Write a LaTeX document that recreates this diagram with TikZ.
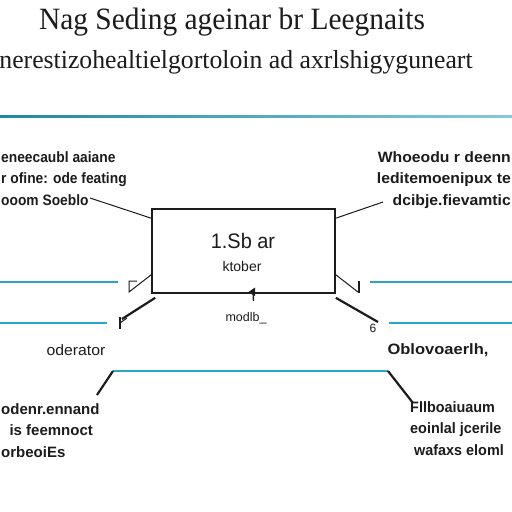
\documentclass[tikz,border=0pt]{standalone}
\usepackage{fontspec}
\setmainfont{Liberation Serif}
\setsansfont{Liberation Sans}
\usetikzlibrary{calc,arrows.meta}
\definecolor{ink}{HTML}{1C1C1C}
\definecolor{tealline}{HTML}{2AA6C2}
\definecolor{tealdark}{HTML}{1F88A4}
\definecolor{teallight}{HTML}{86CADB}
\begin{document}
\begin{tikzpicture}[x=1pt,y=-1pt,
  every node/.style={inner sep=0pt, text=ink},
  title/.style={font=\rmfamily\fontsize{31}{33}\selectfont},
  subtitle/.style={font=\rmfamily\fontsize{26}{28}\selectfont},
  sidetxt/.style={font=\sffamily\bfseries\fontsize{15}{21.5}\selectfont},
  boxtxt/.style={font=\sffamily\fontsize{14}{16}\selectfont},
  mainbox/.style={draw=ink, line width=1.6pt, minimum width=183pt, minimum height=84pt},
  tealrule/.style={draw=tealline, line width=1.7pt},
  conn/.style={draw=ink, line width=1pt},
  heavyconn/.style={draw=ink, line width=2.2pt}]
\useasboundingbox (0,0) rectangle (512,512);
\fill[white] (0,0) rectangle (512,512);

% titles
\node[title] (t1) at (232,22) {\scalebox{0.95}[1]{Nag Seding ageinar br Leegnaits}};
\node[subtitle] (t2) at (236,62) {\scalebox{0.99}[1]{nerestizohealtielgortoloin ad axrlshigyguneart}};

% top rule
\shade[left color=tealdark, right color=teallight] (0,115.2) rectangle (512,117.4);

% side text blocks
\node[sidetxt, align=left, anchor=north west] (lblock) at (1,151) {\scalebox{0.92}[1]{eneecaubl aaiane}\\ \scalebox{0.92}[1]{r ofine: ode feating}\\ \scalebox{0.92}[1]{ooom Soeblo}};
\node[sidetxt, align=right, anchor=north east] (rblock) at (511,151) {\scalebox{1.05}[1]{Whoeodu r deenn}\\ \scalebox{1.05}[1]{leditemoenipux te}\\ \scalebox{1.05}[1]{dcibje.fievamtic}};

% main box
\node[mainbox] (box) at (243.5,251) {};
\node[font=\sffamily\fontsize{21}{23}\selectfont] (bt1) at (243,241) {\scalebox{0.95}[1]{1.Sb ar}};
\node[boxtxt] (bt2) at (242,266) {ktober};
\node[font=\sffamily\fontsize{12.5}{14}\selectfont] (bt3) at (246,318) {modlb\_};

% top connectors
\coordinate (lend) at (90,198);
\coordinate (rend) at (383,202);
\draw[conn] (lend) -- ($(box.north west)+(0,10)$);
\draw[conn] (rend) -- ($(box.north east)+(0,10)$);

% small arrow at box bottom
\coordinate (amid) at (253.5,301);
\draw[ink, line width=1.4pt] (amid) -- (253,291);
\fill[ink] (248.5,292) -- (255,287.5) -- (255,296) -- cycle;

% teal side lines
\coordinate (l1) at (0,282); \coordinate (l1e) at (118,282);
\coordinate (l2) at (0,323); \coordinate (l2e) at (107,323);
\coordinate (r1) at (370,282); \coordinate (r1e) at (512,282);
\coordinate (r2) at (389,323); \coordinate (r2e) at (512,323);
\draw[tealrule] (l1) -- (l1e);
\draw[tealrule] (l2) -- (l2e);
\draw[tealrule] (r1) -- (r1e);
\draw[tealrule] (r2) -- (r2e);

% left marks
\coordinate (lm1) at (129,292);
\draw[conn] ($(box.south west)+(0,-19)$) -- (lm1) -- (129,281) -- (137,281);
\coordinate (lm2) at (122,319);
\draw[heavyconn] ($(box.south west)+(4,4)$) -- (lm2);
\draw[conn, line width=1.3pt] (120,317) -- (120,329);
\draw[conn] (120,323) -- (127,318);

% right marks
\coordinate (rm1) at (358,292);
\draw[conn] ($(box.south east)+(0,-19)$) -- (rm1);
\draw[conn, line width=1.3pt] (359,281) -- (359,293);
\coordinate (rm2) at (378,322);
\draw[heavyconn] ($(box.south east)+(0,4)$) -- (rm2);
\node[font=\sffamily\fontsize{12}{13}\selectfont] (six) at (373,328) {6};

% mid labels
\node[font=\sffamily\fontsize{15}{17}\selectfont] (oder) at (76,350) {\scalebox{1.05}[1]{oderator}};
\node[sidetxt] (oblo) at (438,350) {\scalebox{1.1}[1]{Oblovoaerlh,}};

% bottom teal line with diagonals
\coordinate (bl) at (113,371);
\coordinate (br) at (388,371);
\coordinate (bld) at (97,395);
\coordinate (brd) at (413,403);
\draw[tealrule] (bl) -- (br);
\draw[heavyconn] (bl) -- (bld);
\draw[heavyconn] (br) -- (brd);

% bottom text blocks
\node[sidetxt, align=left, anchor=north west] (lbot) at (1,403) {\scalebox{1.0}[1]{odenr.ennand}\\ \scalebox{1.0}[1]{\ \ is feemnoct}\\ \scalebox{1.0}[1]{orbeoiEs}};
\node[sidetxt, align=left, anchor=north west] (rbot) at (410,401) {\scalebox{0.96}[1]{Fllboaiuaum}\\ \scalebox{0.96}[1]{eoinlal jcerile}\\ \scalebox{0.96}[1]{\ wafaxs eloml}};
\end{tikzpicture}
\end{document}
